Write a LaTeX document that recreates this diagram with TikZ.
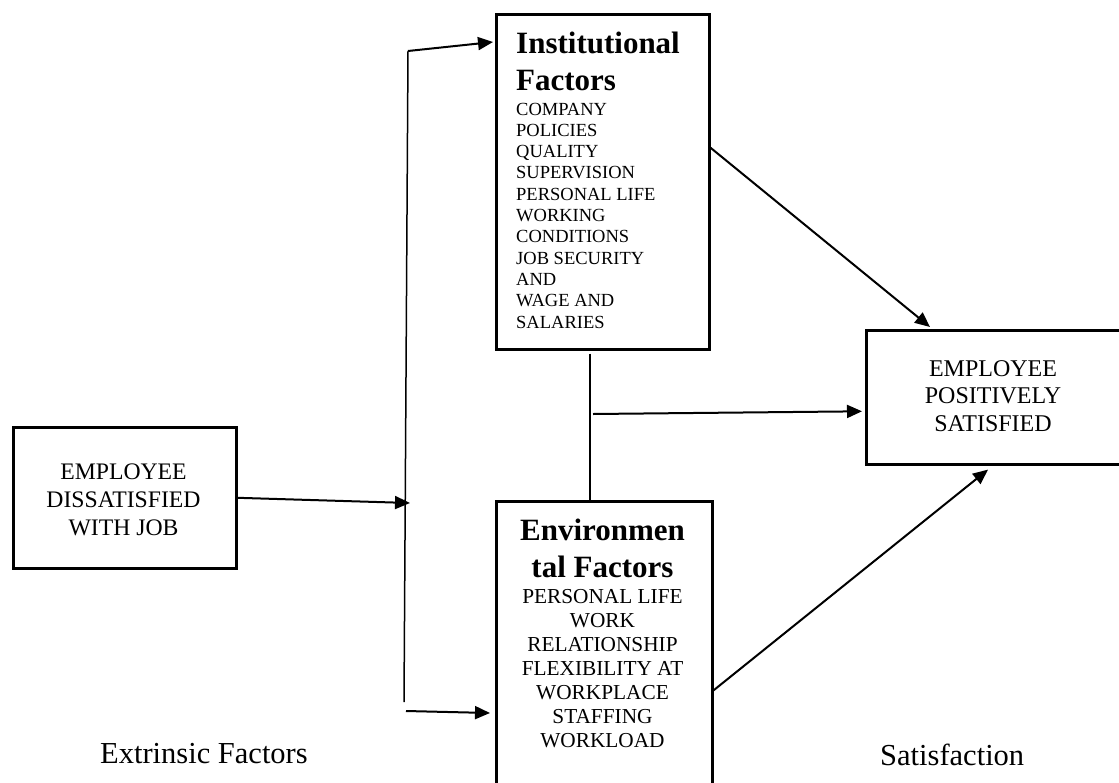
\documentclass[tikz,border=0pt]{standalone}
\usepackage{fontspec}
\setmainfont{Liberation Serif}
\usetikzlibrary{arrows.meta,calc}

\begin{document}
\begin{tikzpicture}[
  x=1pt,y=-1pt,
  box/.style={draw,line width=2.6pt,inner sep=0pt,anchor=north west},
  head/.style={inner sep=0pt,anchor=base,font=\fontsize{31}{36.5}\selectfont\bfseries},
  body/.style={inner sep=0pt,anchor=base},
  flow/.style={-{Triangle[length=15pt,width=13pt]},line width=2pt},
  rail/.style={line width=1.5pt},
  link/.style={line width=1.2pt},
]
\useasboundingbox (0,0) rectangle (1119,782);

% boxes
\node[box,minimum width=223,minimum height=141] (dis) at (12,426) {};
\node[box,minimum width=213,minimum height=335] (inst) at (495,13) {};
\node[box,minimum width=216,minimum height=310] (env) at (495,500) {};
\node[box,minimum width=262,minimum height=134] (sat) at (865,329) {};

% box texts (placed at the baseline of their last line)
\node[body,align=center,font=\fontsize{23.7}{28}\selectfont] (distx) at (123.5,535)
  {EMPLOYEE\\DISSATISFIED\\WITH JOB};
\node[head,align=left,anchor=base west] (insth) at (516,90) {Institutional\\Factors};
\node[body,align=left,anchor=base west,font=\fontsize{18.5}{21.3}\selectfont] (insttx) at (516,328)
  {COMPANY\\POLICIES\\QUALITY\\SUPERVISION\\PERSONAL LIFE\\WORKING\\CONDITIONS\\JOB SECURITY\\AND\\WAGE AND\\SALARIES};
\node[head,align=center] (envh) at (602.5,577) {Environmen\\tal Factors};
\node[body,align=center,font=\fontsize{21.3}{24}\selectfont] (envtx) at (602.5,747)
  {PERSONAL LIFE\\WORK\\RELATIONSHIP\\FLEXIBILITY AT\\WORKPLACE\\STAFFING\\WORKLOAD};
\node[body,align=center,font=\fontsize{24}{27.5}\selectfont] (sattx) at (993,431)
  {EMPLOYEE\\POSITIVELY\\SATISFIED};

% captions
\node[body,anchor=base west,font=\fontsize{30.5}{36}\selectfont] (extr) at (100,763) {Extrinsic Factors};
\node[body,anchor=base west,font=\fontsize{30.5}{36}\selectfont] (satis) at (880,765) {Satisfaction};

% split rail on the left
\coordinate (rtop) at (408,51);
\coordinate (rmid) at (410,503);
\coordinate (rbot) at (404,702);
\coordinate (rlow) at (406,711);
\draw[rail] (rtop) -- (rbot);
\draw[flow] (dis.east) -- (rmid);
\draw[flow] (rtop) -- ($(inst.north west)+(-2,29)$);
\draw[flow] (rlow) -- ($(env.north west)+(-5,213)$);

% link between the two factor boxes
\coordinate (cx) at (590,420);
\coordinate (mid) at (593,414);
\draw[link] ($(inst.south -| cx)+(0,3)$) -- (env.north -| cx);
\draw[flow] (mid) -- ($(sat.west)+(-3,14)$);

% into satisfaction
\draw[flow] ($(inst.east)+(0,-34)$) -- ($(sat.north west)+(65,-2)$);
\draw[flow] ($(env.east)+(0,34)$) -- ($(sat.south west)+(123,4)$);
\end{tikzpicture}
\end{document}
